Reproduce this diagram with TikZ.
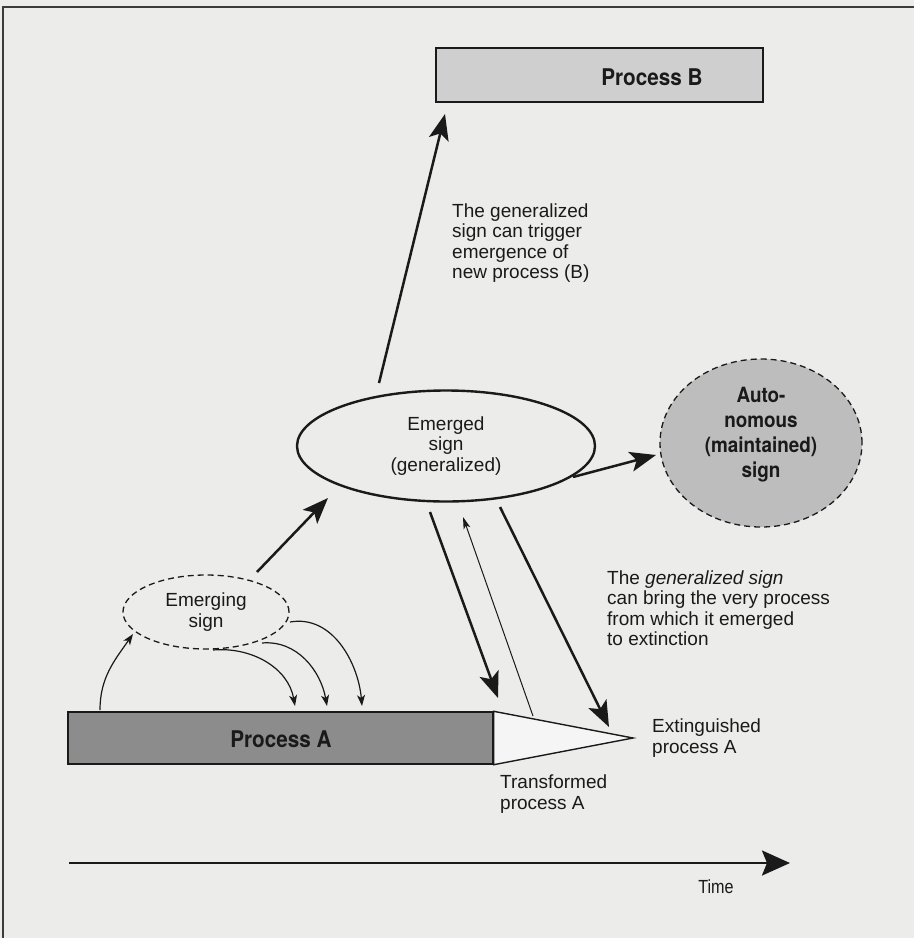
\documentclass[tikz,border=0pt]{standalone}
\usepackage{fontspec}
\setmainfont{Liberation Sans}
\newfontfamily\condbold{TeX Gyre Heros}[FakeStretch=0.9]
\newfontfamily\condreg{Liberation Sans}[FakeStretch=0.85]
\usetikzlibrary{shapes.geometric,arrows.meta}
\definecolor{paper}{HTML}{ECECEB}
\definecolor{ink}{HTML}{1A1A1A}
\definecolor{procAfill}{HTML}{8C8C8C}
\definecolor{procBfill}{HTML}{CFCFCF}
\definecolor{autofill}{HTML}{BDBDBD}
\definecolor{trifill}{HTML}{F5F5F5}
\begin{document}
\begin{tikzpicture}[x=1pt,y=-1pt,
  body/.style={font=\fontsize{19}{20.5}\selectfont, align=left, inner sep=0pt, text=ink},
  boldlab/.style={font=\condbold\bfseries\fontsize{23}{26}\selectfont, inner sep=0pt, text=ink},
  bigarrow/.style={draw=ink, line width=2.5pt, -{Stealth[length=26pt,width=20pt,inset=6pt]}},
  thinarrow/.style={draw=ink, line width=1.2pt, -{Stealth[length=11pt,width=8pt,inset=3pt]}},
  hairarrow/.style={draw=ink, line width=1pt, -{Stealth[length=12pt,width=7pt,inset=3pt]}},
  procbox/.style={draw=ink, line width=1.4pt, rectangle, inner sep=0pt},
  dashell/.style={ellipse, draw=ink, dashed, dash pattern=on 6pt off 4pt, line width=1.3pt, inner sep=0pt}
]
\useasboundingbox (0,0) rectangle (914,938);
\fill[paper] (0,0) rectangle (914,938);
% frame
\draw[ink!85, line width=1.3pt] (3,938) -- (3,7) -- (914,7);

% Process B
\node[procbox, fill=procBfill, minimum width=327pt, minimum height=54pt] (procB) at (599.5,75) {};
\node[boldlab] (procBtext) at (652,77) {Process B};

% Process A and its tapering end
\node[procbox, fill=procAfill, minimum width=425pt, minimum height=52pt] (procA) at (280.5,738) {};
\node[boldlab] (procAtext) at (281,739) {Process A};
\coordinate (tip) at (633,738);
\draw[ink, line width=1.4pt, fill=trifill, line join=miter] (procA.north east) -- (tip) -- (procA.south east) -- cycle;

% Emerged sign
\node[ellipse, draw=ink, line width=2.4pt, minimum width=298pt, minimum height=111pt, inner sep=0pt,
      align=center, font=\fontsize{19}{20.5}\selectfont, text=ink] (emerged) at (446,446)
      {Emerged\\sign\\(generalized)};

% Autonomous sign
\node[dashell, fill=autofill, minimum width=202pt, minimum height=168pt] (auto) at (761,443) {};
\node[align=center, inner sep=0pt, text=ink, font=\condbold\bfseries\fontsize{21}{25}\selectfont] (autotext) at (761,435)
      {Auto-\\nomous\\(maintained)\\sign};

% Emerging sign
\node[dashell, minimum width=166pt, minimum height=74pt, align=center,
      font=\fontsize{19}{20.5}\selectfont, text=ink] (emerging) at (206,612) {Emerging\\sign};

% Labels
\node[body, anchor=west] (labB) at (452,243)
  {The generalized\\sign can trigger\\emergence of\\new process (B)};
\node[body, anchor=west] (labExt) at (607,608)
  {The \textit{generalized sign}\\can bring the very process\\from which it emerged\\to extinction};
\node[body, anchor=west] (labExtinct) at (652,738) {Extinguished\\process A};
\node[body, anchor=west] (labTrans) at (500,794) {Transformed\\process A};

% connector end points
\coordinate (e1s) at (257,572);
\coordinate (e1t) at (328,498);
\coordinate (bS) at (379,383);
\coordinate (bT) at (445,114);
\coordinate (aS) at (573,477);
\coordinate (aT) at (656,455);
\coordinate (d1S) at (430,512);
\coordinate (d1T) at (498,698);
\coordinate (upS) at (533,716);
\coordinate (upT) at (463,517);
\coordinate (d2S) at (500,507);
\coordinate (d2T) at (609,727);

\draw[bigarrow] (e1s) -- (e1t);
\draw[bigarrow] (bS) -- (bT);
\draw[bigarrow] (aS) -- (aT);
\draw[bigarrow] (d1S) -- (d1T);
\draw[hairarrow] (upS) -- (upT);
\draw[bigarrow] (d2S) -- (d2T);

% curved arrows around emerging sign
\coordinate (c0S) at (100,710);
\coordinate (c0T) at (133,634);
\coordinate (c1S) at (213,650);
\coordinate (c1T) at (295,706);
\coordinate (c2S) at (262,643);
\coordinate (c2T) at (327,706);
\coordinate (c3S) at (290,622);
\coordinate (c3T) at (362,706);
\draw[thinarrow] (c0S) to[out=90, in=235] (c0T);
\draw[thinarrow] (c1S) to[out=5, in=100] (c1T);
\draw[thinarrow] (c2S) to[out=5, in=100] (c2T);
\draw[thinarrow] (c3S) to[out=10, in=95] (c3T);

% Time axis
\coordinate (t0) at (69,863);
\coordinate (t1) at (790,863);
\draw[draw=ink, line width=2.6pt, -{Stealth[length=28pt,width=25pt,inset=5pt]}] (t0) -- (t1);
\node[inner sep=0pt, text=ink, font=\condreg\fontsize{19}{22}\selectfont] (timelab) at (716,887) {Time};
\end{tikzpicture}
\end{document}
